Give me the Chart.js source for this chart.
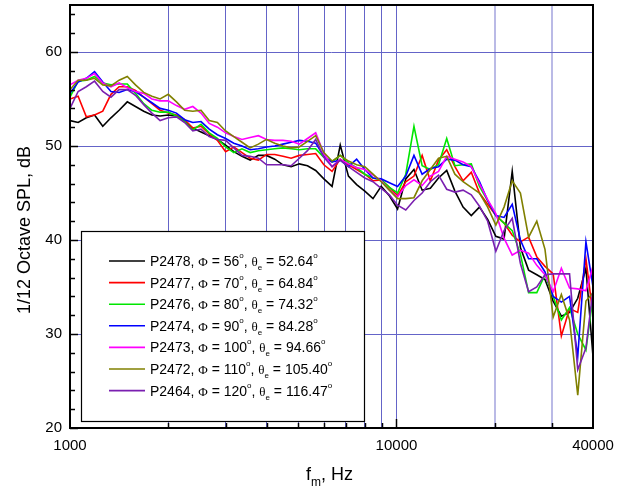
<!DOCTYPE html>
<html>
<head>
<meta charset="utf-8">
<script src="https://cdn.jsdelivr.net/npm/chart.js@4.4.1/dist/chart.umd.min.js"></script>
<style>
  html, body { margin: 0; padding: 0; background: #fff; }
  #wrap { width: 624px; height: 490px; }
</style>
</head>
<body>
<div id="wrap"><canvas id="spl" width="624" height="490"></canvas></div>
<script>
// 1/12 octave band centre frequencies, Hz
const freqs = [1000, 1059, 1122, 1189, 1260, 1335, 1414, 1498, 1587, 1682, 1782, 1888,
  2000, 2119, 2245, 2378, 2520, 2670, 2828, 2997, 3175, 3364, 3564, 3776,
  4000, 4238, 4490, 4757, 5040, 5339, 5657, 5993, 6350, 6727, 7127, 7551,
  8000, 8476, 8980, 9514, 10079, 10679, 11314, 11986, 12699, 13454, 14254, 15102,
  16000, 16951, 17959, 19027, 20159, 21357, 22627, 23973, 25398, 26909, 28509, 30204,
  32000, 33903, 35919, 38055, 40000];

// SPL, dB
const spl2478 = [52.7, 52.5, 53.0, 53.3, 52.1, 53.0, 53.8, 54.7, 54.2, 53.7, 53.3, 53.2,
  53.3, 53.2, 52.6, 51.9, 51.5, 51.1, 50.7, 50.1, 49.4, 48.9, 48.5, 49.0,
  49.0, 48.6, 48.0, 47.8, 48.1, 47.9, 47.4, 46.5, 45.7, 50.1, 46.8, 45.9,
  45.2, 44.4, 45.7, 44.7, 43.3, 46.5, 47.5, 45.3, 45.5, 46.6, 47.4, 45.2,
  43.5, 42.6, 43.5, 42.2, 40.4, 40.1, 47.3, 39.2, 36.8, 36.3, 35.8, 33.5,
  31.9, 32.3, 33.8, 37.0, 27.6];
const spl2477 = [55.0, 55.3, 53.1, 53.3, 53.7, 55.5, 56.3, 56.3, 55.9, 55.2, 54.5, 53.8,
  53.5, 53.3, 52.8, 51.9, 52.1, 51.3, 50.6, 49.4, 49.9, 49.3, 48.7, 48.5,
  49.1, 49.1, 48.9, 48.7, 49.0, 49.1, 49.2, 48.0, 47.3, 48.6, 48.0, 47.5,
  47.0, 46.3, 46.4, 45.6, 44.7, 46.2, 46.8, 49.0, 46.3, 48.5, 49.6, 47.8,
  46.3, 47.2, 45.0, 43.8, 42.6, 41.8, 40.5, 39.8, 40.3, 38.2, 37.2, 36.4,
  29.8, 32.7, 32.3, 38.0, 32.0];
const spl2476 = [55.2, 56.9, 57.0, 57.4, 56.7, 56.5, 56.6, 56.6, 55.6, 54.5, 53.8, 53.6,
  53.6, 53.2, 52.6, 51.7, 52.3, 51.4, 50.8, 49.9, 49.3, 49.7, 49.3, 49.5,
  49.6, 49.7, 49.8, 49.7, 49.6, 49.7, 49.7, 48.8, 48.3, 49.0, 48.2, 47.7,
  47.0, 46.6, 46.4, 45.6, 45.0, 47.0, 52.1, 47.9, 47.5, 48.0, 50.8, 47.9,
  48.0, 48.1, 45.7, 44.2, 42.6, 41.8, 41.0, 38.5, 34.4, 34.4, 36.3, 34.0,
  31.5, 32.8, 30.0, 28.3, 34.0];
const spl2474 = [55.6, 56.8, 57.2, 57.9, 56.8, 55.8, 55.7, 56.0, 55.8, 55.2, 54.6, 54.0,
  53.8, 53.5, 52.8, 52.5, 52.6, 51.8, 51.2, 50.8, 50.3, 50.0, 49.6, 49.7,
  49.9, 50.0, 50.2, 50.4, 50.6, 50.5, 50.3, 48.9, 48.3, 48.5, 47.8, 48.6,
  47.5, 46.6, 46.5, 46.1, 45.7, 46.8, 49.0, 47.0, 47.6, 47.8, 48.6, 48.5,
  48.0, 47.8, 46.2, 44.2, 42.6, 42.4, 43.8, 40.0, 38.0, 38.0, 36.6, 34.0,
  33.4, 34.0, 27.6, 39.8, 35.0];
const spl2473 = [56.5, 57.0, 57.2, 57.7, 56.7, 56.3, 56.7, 56.2, 55.8, 55.6, 55.0, 54.8,
  54.8, 54.3, 53.9, 54.2, 53.5, 52.4, 52.0, 51.4, 51.0, 50.7, 50.9, 51.1,
  50.7, 50.6, 50.6, 50.5, 50.2, 50.8, 51.4, 49.2, 47.8, 48.6, 48.1, 47.7,
  47.5, 46.9, 46.3, 45.3, 44.6, 45.8, 46.4, 45.8, 46.8, 47.3, 48.9, 48.6,
  48.3, 47.8, 46.0, 44.3, 42.8, 40.2, 38.4, 38.9, 38.6, 37.3, 36.3, 34.5,
  37.0, 34.9, 34.8, 34.6, 37.2];
const spl2472 = [56.0, 57.0, 57.0, 57.2, 56.5, 56.4, 57.0, 57.4, 56.5, 55.7, 55.3, 55.0,
  55.5, 54.7, 53.8, 53.7, 53.8, 52.7, 52.5, 51.6, 51.0, 50.4, 49.8, 50.2,
  50.7, 50.3, 50.0, 49.8, 49.9, 50.5, 51.1, 49.3, 48.4, 49.0, 48.4, 48.0,
  47.8, 47.0, 46.2, 45.3, 44.4, 44.4, 44.5, 46.3, 47.5, 48.7, 48.9, 47.0,
  46.2, 45.6, 45.0, 43.5, 41.6, 43.5, 46.3, 45.0, 40.3, 42.0, 39.0, 31.8,
  34.2, 31.5, 23.5, 33.5, 34.4];
const spl2464 = [54.0, 55.8, 56.3, 56.9, 55.8, 55.2, 56.0, 56.0, 55.4, 54.4, 53.5, 52.7,
  53.0, 53.1, 52.5, 51.6, 51.8, 51.0, 50.7, 50.6, 49.8, 49.0, 48.9, 48.7,
  48.0, 48.0, 48.0, 47.9, 48.7, 49.5, 50.7, 48.8, 47.8, 48.5, 47.8, 47.2,
  46.6, 46.2, 45.5, 44.8, 43.7, 43.2, 44.2, 45.0, 46.2, 46.9, 45.4, 45.1,
  45.3, 44.8, 43.6, 42.0, 38.8, 41.0, 42.3, 37.5, 34.5, 35.0, 36.3, 36.4,
  36.4, 36.4, 26.2, 28.5, 34.7];

const probes = ["P2478", "P2477", "P2476", "P2474", "P2473", "P2472", "P2464"];
const phiDeg = ["56", "70", "80", "90", "100", "110", "120"];
const thetaE = ["52.64", "64.84", "74.32", "84.28", "94.66", "105.40", "116.47"];
const lineColors = ["#000000", "#ff0000", "#00e600", "#0000ff", "#ff00ff", "#808000", "#7a1fb0"];

const xTickValues = [1000, 2000, 3000, 4000, 5000, 6000, 7000, 8000, 9000, 10000, 20000, 30000, 40000];
const xLabels = [1000, 10000, 40000];
const yTickValues = [20, 22, 24, 26, 28, 30, 32, 34, 36, 38, 40, 42, 44, 46, 48, 50, 52, 54, 56, 58, 60, 62, 64];

const allSeries = [spl2478, spl2477, spl2476, spl2474, spl2473, spl2472, spl2464];
const SANS = "'Liberation Sans', Arial, sans-serif";
const SERIF = "'Liberation Serif', 'Times New Roman', serif";
const gridBlue = "rgb(100,100,200)";
const gridPale = "rgba(130,130,210,0.55)";

// draw a run of text pieces (font / vertical shift) left to right
function drawRich(ctx, x, y, parts) {
  parts.forEach((p) => {
    ctx.font = p.font;
    ctx.fillText(p.text, x, y + (p.dy || 0));
    x += ctx.measureText(p.text).width + (p.gap || 0);
  });
}

const frameAndLegend = {
  id: "frameAndLegend",
  afterDraw(chart) {
    const ctx = chart.ctx;
    const a = chart.chartArea;
    const xs = chart.scales.x;
    const ys = chart.scales.y;
    ctx.save();

    // inward ticks
    ctx.strokeStyle = "#000";
    ctx.lineWidth = 1.5;
    yTickValues.forEach((v) => {
      const y = Math.round(ys.getPixelForValue(v)) + 0.5;
      const len = v % 10 === 0 ? 8 : 5;
      ctx.beginPath();
      ctx.moveTo(a.left, y);
      ctx.lineTo(a.left + len, y);
      ctx.stroke();
    });
    xTickValues.slice(1, -1).forEach((v) => {
      const x = Math.round(xs.getPixelForValue(v)) + 0.5;
      const len = v === 10000 ? 9 : 5;
      ctx.beginPath();
      ctx.moveTo(x, a.bottom);
      ctx.lineTo(x, a.bottom - len);
      ctx.stroke();
    });

    // frame
    ctx.lineWidth = 2;
    ctx.strokeRect(a.left, a.top, a.right - a.left, a.bottom - a.top);

    // legend box
    const bx = a.left + 11, by = a.bottom - 197, bw = 283, bh = 190;
    ctx.fillStyle = "#fff";
    ctx.fillRect(bx, by, bw, bh);
    ctx.lineWidth = 1.2;
    ctx.strokeStyle = "#000";
    ctx.strokeRect(bx + 0.5, by + 0.5, bw, bh);

    ctx.textBaseline = "alphabetic";
    chart.data.datasets.forEach((ds, i) => {
      const cy = by + 30 + i * 21.6;
      ctx.strokeStyle = ds.borderColor;
      ctx.lineWidth = 1.6;
      ctx.beginPath();
      ctx.moveTo(bx + 28, cy);
      ctx.lineTo(bx + 64, cy);
      ctx.stroke();
      ctx.fillStyle = "#000";
      drawRich(ctx, bx + 69, cy + 5, [
        { text: probes[i] + ", ", font: "14px " + SANS },
        { text: "\u03A6", font: "13px " + SERIF },
        { text: " = " + phiDeg[i], font: "14px " + SANS },
        { text: "o", font: "8px " + SANS, dy: -8 },
        { text: ", ", font: "14px " + SANS },
        { text: "\u03B8", font: "13px " + SERIF },
        { text: "e", font: "8px " + SANS, dy: 4 },
        { text: " = " + thetaE[i], font: "14px " + SANS },
        { text: "o", font: "8px " + SANS, dy: -8 },
      ]);
    });

    // axis titles
    ctx.fillStyle = "#000";
    drawRich(ctx, 306, 480, [
      { text: "f", font: "18px " + SANS },
      { text: "m", font: "12px " + SANS, dy: 6 },
      { text: ", Hz", font: "18px " + SANS },
    ]);
    ctx.save();
    ctx.translate(25, 230);
    ctx.rotate(-Math.PI / 2);
    ctx.font = "18px " + SANS;
    ctx.textAlign = "center";
    ctx.textBaseline = "middle";
    ctx.fillText("1/12 Octave SPL, dB", 0, 0);
    ctx.restore();

    ctx.restore();
  },
};

const datasets = allSeries.map((vals, i) => ({
  label: probes[i],
  data: vals.map((v, k) => ({ x: freqs[k], y: v })),
  borderColor: lineColors[i],
  backgroundColor: lineColors[i],
  borderWidth: 1.6,
  pointRadius: 0,
  tension: 0,
  fill: false,
  order: allSeries.length - i,
}));

new Chart(document.getElementById("spl").getContext("2d"), {
  type: "line",
  data: { datasets },
  options: {
    responsive: false,
    animation: false,
    layout: { padding: { top: 5, right: 31, left: 0, bottom: 0 } },
    plugins: { legend: { display: false }, tooltip: { enabled: false } },
    scales: {
      x: {
        type: "logarithmic",
        min: 1000,
        max: 40000,
        afterBuildTicks: (s) => {
          s.ticks = xTickValues.map((v) => ({ value: v }));
        },
        afterFit: (s) => {
          s.height = 62;
          s.paddingLeft = 0;
          s.paddingRight = 0;
        },
        ticks: {
          autoSkip: false,
          maxRotation: 0,
          padding: 9,
          color: "#000",
          font: { family: SANS, size: 15 },
          callback: (v) => (xLabels.includes(v) ? String(v) : ""),
        },
        grid: {
          drawTicks: false,
          color: (c) => {
            const v = c.tick && c.tick.value;
            if (v === 1000 || v === 40000) return "transparent";
            return v > 10000 ? gridPale : gridBlue;
          },
          lineWidth: (c) => (c.tick && c.tick.value > 10000 ? 2 : 1),
        },
        border: { display: false },
      },
      y: {
        min: 20,
        max: 65,
        afterBuildTicks: (s) => {
          s.ticks = yTickValues.map((v) => ({ value: v }));
        },
        afterFit: (s) => {
          s.width = 70;
          s.paddingTop = 0;
          s.paddingBottom = 0;
        },
        ticks: {
          autoSkip: false,
          padding: 8,
          color: "#000",
          font: { family: SANS, size: 15 },
          callback: (v) => (v % 10 === 0 ? String(v) : ""),
        },
        grid: {
          drawTicks: false,
          color: (c) => {
            const v = c.tick && c.tick.value;
            return v && v > 20 && v % 10 === 0 ? gridBlue : "transparent";
          },
        },
        border: { display: false },
      },
    },
  },
  plugins: [frameAndLegend],
});
</script>
</body>
</html>
